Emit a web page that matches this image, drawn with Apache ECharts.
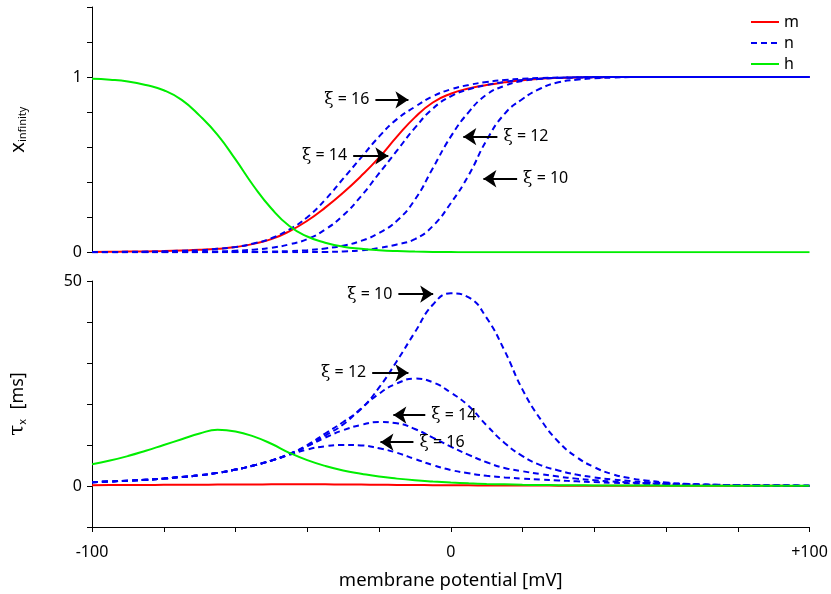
<!DOCTYPE html>
<html><head><meta charset="utf-8">
<script src="https://cdn.jsdelivr.net/npm/echarts@6/dist/echarts.min.js"></script>
<style>html,body{margin:0;padding:0;background:#fff}#c{width:831px;height:594px}</style>
</head><body><div id="c"></div>
<script>
// membrane potential (mV)
const V = [-100,-95,-90,-85,-80,-75,-70,-65,-60,-55,-50,-45,-40,-35,-30,-25,-20,-15,-10,-5,0,5,10,15,20,25,30,35,40,45,50,55,60,65,70,75,80,85,90,95,100];
// steady-state activation x_infinity
const mInf = [0.002,0.003,0.004,0.005,0.007,0.01,0.014,0.02,0.03,0.048, 0.075,0.12,0.18,0.255,0.34,0.435,0.54,0.66,0.77,0.855, 0.905,0.935,0.955,0.97,0.982,0.99,0.995,0.998,0.999,1, 1,1,1,1,1,1,1,1,1,1,1];
const nInf16 = [0.002,0.002,0.003,0.004,0.006,0.009,0.012,0.02,0.03,0.05, 0.08,0.13,0.2,0.3,0.42,0.54,0.66,0.76,0.83,0.89, 0.93,0.955,0.972,0.983,0.99,0.995,0.997,0.999,1,1, 1,1,1,1,1,1,1,1,1,1,1];
const nInf14 = [0,0,0.001,0.001,0.001,0.002,0.003,0.005,0.009,0.015, 0.026,0.045,0.075,0.13,0.21,0.32,0.45,0.58,0.71,0.82, 0.89,0.93,0.955,0.972,0.984,0.991,0.995,0.997,0.999,1, 1,1,1,1,1,1,1,1,1,1,1];
const nInf12 = [0,0,0,0,0,0,0,0.001,0.001,0.002, 0.004,0.007,0.012,0.022,0.038,0.065,0.11,0.18,0.30,0.48, 0.66,0.80,0.90,0.95,0.978,0.99,0.996,0.998,0.999,1, 1,1,1,1,1,1,1,1,1,1,1];
const nInf10 = [0,0,0,0,0,0,0,0,0,0, 0,0,0.001,0.002,0.005,0.011,0.025,0.045,0.075,0.15, 0.28,0.44,0.64,0.79,0.875,0.935,0.97,0.985,0.993,0.997, 1,1,1,1,1,1,1,1,1,1,1];
const hInf = [0.99,0.985,0.975,0.955,0.925,0.87,0.78,0.67,0.53,0.38, 0.25,0.15,0.09,0.055,0.032,0.02,0.012,0.007,0.004,0.002, 0.001,0,0,0,0,0,0,0,0,0, 0,0,0,0,0,0,0,0,0,0,0];
// time constants tau_x (ms)
const tauM = [0.2,0.22,0.24,0.26,0.28,0.3,0.32,0.34,0.36,0.38, 0.4,0.41,0.41,0.4,0.38,0.35,0.31,0.27,0.24,0.21, 0.18,0.16,0.14,0.12,0.11,0.1,0.09,0.08,0.07,0.07, 0.06,0.06,0.05,0.05,0.05,0.04,0.04,0.04,0.04,0.03,0.03];
const tauN10 = [0.9,1.1,1.3,1.5,1.8,2.2,2.6,3.2,4.0,5.0, 6.2,7.8,10.0,12.8,15.6,18.8,24,30.5,37.5,44.2, 47.0,46.0,41.0,33,23.5,16.3,10.8,7.1,4.6,2.9, 1.9,1.3,0.85,0.55,0.38,0.27,0.2,0.15,0.12,0.1,0.08];
const tauN12 = [0.9,1.1,1.3,1.5,1.8,2.2,2.6,3.2,4.0,5.0, 6.2,7.8,9.8,12.3,15.0,18.9,22.5,25,26.2,25.3, 22.8,19.5,14.8,10.5,7.3,5.1,3.8,2.8,2.1,1.6, 1.2,0.9,0.65,0.5,0.38,0.29,0.22,0.17,0.13,0.1,0.08];
const tauN14 = [0.9,1.1,1.3,1.5,1.8,2.2,2.6,3.2,4.0,5.0, 6.2,7.8,9.7,11.8,13.6,14.9,15.6,15.3,13.9,11.8, 9.6,7.6,5.8,4.4,3.6,2.9,2.3,1.8,1.4,1.1, 0.85,0.65,0.5,0.4,0.32,0.25,0.2,0.16,0.12,0.1,0.08];
const tauN16 = [0.9,1.1,1.3,1.5,1.8,2.2,2.6,3.2,4.0,5.0, 6.2,7.6,8.9,9.7,10.0,9.9,9.2,8.1,6.6,5.1, 3.9,3.1,2.5,2.1,1.8,1.55,1.35,1.15,0.95,0.8, 0.65,0.52,0.42,0.34,0.27,0.22,0.18,0.14,0.11,0.09,0.07];
const tauH = [5.3,6.2,7.3,8.6,10.0,11.4,12.8,13.7,13.3,12.1, 10.3,8.1,6.3,4.9,3.8,3.0,2.3,1.8,1.4,1.1, 0.85,0.65,0.5,0.4,0.3,0.25,0.2,0.17,0.15,0.13, 0.11,0.1,0.09,0.08,0.07,0.06,0.05,0.05,0.04,0.04,0.04];
// annotation arrows: [label, fromV, toV, y]
const topNotes = [['16',-21.0,-11.8,0.87],['14',-27.2,-17.4,0.55],['12',13.0,3.5,0.66],['10',18.5,9.1,0.42]];
const botNotes = [['10',-14.6,-4.9,46.8],['12',-21.9,-11.8,27.6],['14',-7.1,-16.0,17.3],['16',-10.4,-19.6,10.7]];
const legendNames = ['m', 'n', 'h'];

const FONT = 'Noto Sans';
const RED = '#ff0000', BLUE = '#0000f0', GREEN = '#00ee00';
const pts = a => V.map((v, i) => [v, a[i]]);

function noteLines(notes) {
  return notes.map(n => [
    {coord: [n[1], n[3]], symbol: 'none',
     label: {show: true, position: 'start', distance: 6, formatter: '{g|\u03be} = ' + n[0],
             color: '#000', fontFamily: FONT, fontSize: 16,
             rich: {g: {fontFamily: 'DejaVu Serif', fontSize: 17, color: '#000'}}}},
    {coord: [n[2], n[3]], symbol: 'arrow'}
  ]);
}

function mk(name, data, color, gi, dashed, notes) {
  const s = {
    name, type: 'line', xAxisIndex: gi, yAxisIndex: gi, data: pts(data),
    symbol: 'none', smooth: 0.5, animation: false,
    lineStyle: {color, width: 2, type: dashed ? [6, 4] : 'solid'},
    itemStyle: {color}
  };
  if (notes) {
    s.markLine = {silent: true, animation: false, symbolSize: 13,
      lineStyle: {color: '#000', width: 2, type: 'solid'},
      itemStyle: {color: '#000'},
      data: noteLines(notes)};
  }
  return s;
}

const chart = echarts.init(document.getElementById('c'), null, {renderer: 'canvas'});
chart.setOption({
  animation: false,
  backgroundColor: '#fff',
  textStyle: {fontFamily: FONT},
  grid: [
    {left: 91, right: 21.5, top: 7, height: 245.3},
    {left: 91, right: 21.5, top: 281, height: 246}
  ],
  legend: {
    left: 745, top: 9, orient: 'vertical', itemWidth: 28, itemHeight: 14, itemGap: 5,
    textStyle: {fontFamily: FONT, fontSize: 16, color: '#000'},
    itemStyle: {opacity: 0},
    data: legendNames
  },
  xAxis: [
    {gridIndex: 0, type: 'value', min: -100, max: 100, interval: 20, show: false},
    {gridIndex: 1, type: 'value', min: -100, max: 100, interval: 20,
     name: 'membrane potential [mV]', nameLocation: 'middle', nameGap: 44,
     nameTextStyle: {fontFamily: FONT, fontSize: 18.5, color: '#000'},
     axisLine: {onZero: false, lineStyle: {color: '#000', width: 1}},
     axisTick: {length: 5, lineStyle: {color: '#000'}},
     splitLine: {show: false},
     axisLabel: {margin: 17, fontSize: 16, color: '#000', fontFamily: FONT, showMinLabel: true, showMaxLabel: true,
       formatter: v => v === -100 ? '-100' : v === 0 ? '0' : v === 100 ? '+100' : ''}}
  ],
  yAxis: [
    {gridIndex: 0, type: 'value', min: 0, max: 1.4, interval: 0.2,
     name: '{x|x}{s|infinity}', nameLocation: 'middle', nameGap: 64,
     nameTextStyle: {rich: {x: {fontSize: 20, fontFamily: FONT, color: '#000'},
                            s: {fontSize: 11, fontFamily: FONT, color: '#000', padding: [9, 0, 0, 0]}}},
     axisLine: {show: true, onZero: false, lineStyle: {color: '#000', width: 1}},
     axisTick: {length: 5, lineStyle: {color: '#000'}},
     splitLine: {show: false},
     axisLabel: {margin: 10, fontSize: 16, color: '#000', fontFamily: FONT,
       formatter: v => Math.abs(v) < 1e-9 ? '0' : Math.abs(v - 1) < 1e-9 ? '1' : ''}},
    {gridIndex: 1, type: 'value', min: -10, max: 50, interval: 10,
     name: '{t|\u03c4}{s|x}  [ms]', nameLocation: 'middle', nameGap: 64,
     nameTextStyle: {fontSize: 18, fontFamily: FONT, color: '#000',
       rich: {t: {fontSize: 20, fontFamily: 'DejaVu Serif', color: '#000'},
              s: {fontSize: 11, fontFamily: FONT, color: '#000', padding: [9, 0, 0, 0]}}},
     axisLine: {show: true, onZero: false, lineStyle: {color: '#000', width: 1}},
     axisTick: {length: 5, lineStyle: {color: '#000'}},
     splitLine: {show: false},
     axisLabel: {margin: 10, fontSize: 16, color: '#000', fontFamily: FONT,
       formatter: v => v === 0 ? '0' : v === 50 ? '50' : ''}}
  ],
  series: [
    mk('m', mInf, RED, 0, false, topNotes),
    mk('n', nInf16, BLUE, 0, true),
    mk('n', nInf14, BLUE, 0, true),
    mk('n', nInf12, BLUE, 0, true),
    mk('n', nInf10, BLUE, 0, true),
    mk('h', hInf, GREEN, 0, false),
    mk('m', tauM, RED, 1, false, botNotes),
    mk('n', tauN16, BLUE, 1, true),
    mk('n', tauN14, BLUE, 1, true),
    mk('n', tauN12, BLUE, 1, true),
    mk('n', tauN10, BLUE, 1, true),
    mk('h', tauH, GREEN, 1, false)
  ]
});
</script></body></html>
